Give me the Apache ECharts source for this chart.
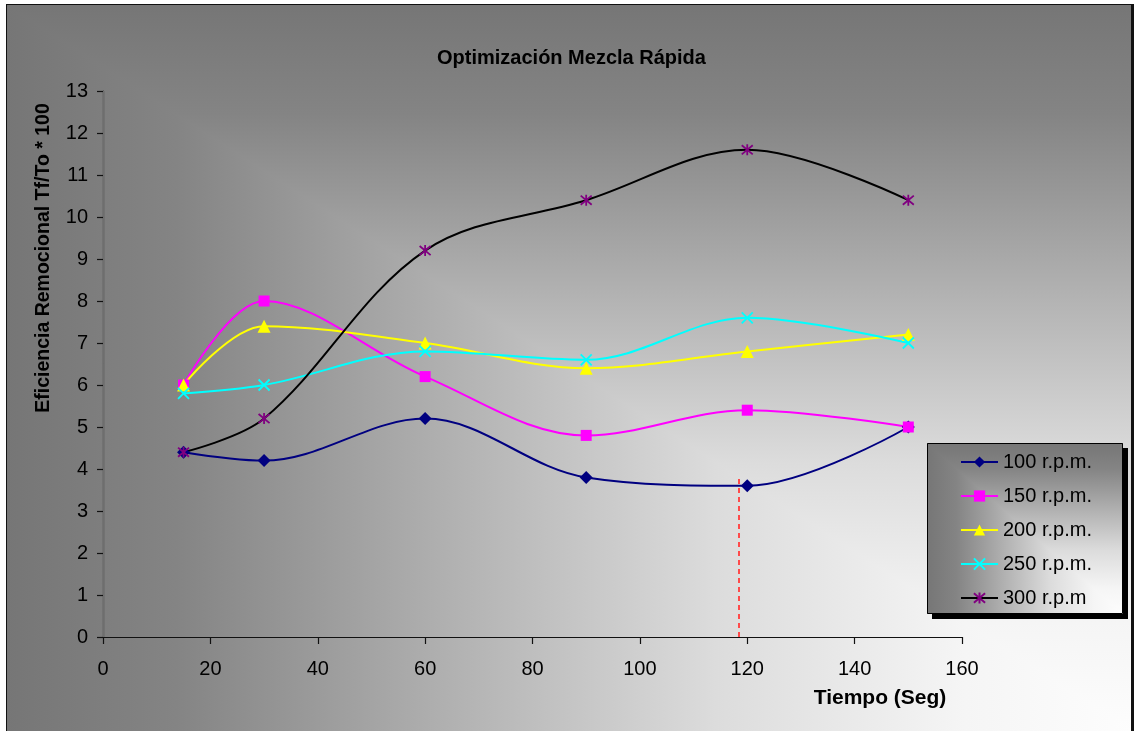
<!DOCTYPE html>
<html>
<head>
<meta charset="utf-8">
<script src="https://cdn.jsdelivr.net/npm/echarts@6/dist/echarts.min.js"></script>
<style>
  html, body { margin: 0; padding: 0; background: #ffffff; }
  #chart { width: 1134px; height: 731px; }
</style>
</head>
<body>
<div id="chart"></div>
<script>
// Mixing time (s) and removal efficiency for each stirring speed
const timeSeg = [15, 30, 60, 90, 120, 150];
const rpm100 = [4.4, 4.2, 5.2, 3.8, 3.6, 5.0];
const rpm150 = [6.0, 8.0, 6.2, 4.8, 5.4, 5.0];
const rpm200 = [6.0, 7.4, 7.0, 6.4, 6.8, 7.2];
const rpm250 = [5.8, 6.0, 6.8, 6.6, 7.6, 7.0];
const rpm300 = [4.4, 5.2, 9.2, 10.4, 11.6, 10.4];
const seriesNames = ['100 r.p.m.', '150 r.p.m.', '200 r.p.m.', '250 r.p.m.', '300 r.p.m'];
const xTicks = [0, 20, 40, 60, 80, 100, 120, 140, 160];
const yTicks = [0, 1, 2, 3, 4, 5, 6, 7, 8, 9, 10, 11, 12, 13];
// dashed reference marker (time, height)
const refTime = 118.5;
const refLevel = 3.83;

const FONT = "'Liberation Sans', Arial, sans-serif";

// grey shading that brightens toward the lower-right corner
const SHADE = [[0, 253], [0.15, 245], [0.37, 220], [0.59, 180], [0.74, 152], [0.85, 132], [1, 118]];
function cornerShade(w, h) {
  const c = document.createElement('canvas');
  c.width = w; c.height = h;
  const g = c.getContext('2d');
  const gx = g.createLinearGradient(w, 0, 0, 0);
  const gy = g.createLinearGradient(0, h, 0, 0);
  SHADE.forEach(([d, v]) => {
    const col = 'rgb(' + v + ',' + v + ',' + v + ')';
    gx.addColorStop(d, col);
    gy.addColorStop(d, col);
  });
  g.fillStyle = gx; g.fillRect(0, 0, w, h);
  g.globalCompositeOperation = 'darken';
  g.fillStyle = gy; g.fillRect(0, 0, w, h);
  return c;
}

// page background: white margin, shaded chart area and its frame
function chartBackground() {
  const c = document.createElement('canvas');
  c.width = 1134; c.height = 731;
  const g = c.getContext('2d');
  g.fillStyle = '#ffffff'; g.fillRect(0, 0, 1134, 731);
  g.drawImage(cornerShade(1126, 726), 7, 5);
  g.fillStyle = '#111111';
  g.fillRect(7, 4, 1127, 1);
  g.fillRect(6, 4, 1, 727);
  g.fillRect(1131, 4, 3, 727);
  return c;
}

const pairs = vals => timeSeg.map((t, i) => [t, vals[i]]);

const CROSS = 'path://M0,0L10,10M10,0L0,10';
const STAR = 'path://M0,0L10,10M10,0L0,10M5,-1L5,11';

function lineSeries(name, vals, lineColor, symColor, symbol, size, stroked) {
  return {
    name: name,
    type: 'line',
    data: pairs(vals),
    smooth: 0.35,
    symbol: symbol,
    symbolSize: size,
    showAllSymbol: true,
    lineStyle: { color: lineColor, width: 2 },
    itemStyle: stroked
      ? { color: symColor, borderColor: symColor, borderWidth: 1.8 }
      : { color: symColor, borderWidth: 0 },
    emphasis: { disabled: true },
    z: 2
  };
}

const series = [
  lineSeries(seriesNames[0], rpm100, '#000080', '#000080', 'diamond', 13, false),
  lineSeries(seriesNames[1], rpm150, '#ff00ff', '#ff00ff', 'rect', 11, false),
  lineSeries(seriesNames[2], rpm200, '#ffff00', '#ffff00', 'triangle', 13, false),
  lineSeries(seriesNames[3], rpm250, '#00ffff', '#00ffff', CROSS, 11, true),
  lineSeries(seriesNames[4], rpm300, '#000000', '#800080', STAR, 11, true)
];

series[0].markLine = {
  silent: true,
  symbol: ['none', 'none'],
  label: { show: false },
  lineStyle: { color: '#ff4a4a', type: [5, 4], width: 2 },
  data: [[{ coord: [refTime, 0] }, { coord: [refTime, refLevel] }]]
};

const chart = echarts.init(document.getElementById('chart'), null, { renderer: 'canvas' });

const legendShade = cornerShade(196, 171);

chart.setOption({
  animation: false,
  backgroundColor: 'transparent',
  textStyle: { fontFamily: FONT },
  title: {
    text: 'Optimización Mezcla Rápida',
    left: 437,
    top: 48,
    padding: 0,
    textStyle: { fontFamily: FONT, fontSize: 20, fontWeight: 'bold', color: '#000000' }
  },
  grid: { left: 103, right: 172, top: 91, bottom: 94, containLabel: false },
  xAxis: {
    type: 'value',
    min: xTicks[0],
    max: xTicks[xTicks.length - 1],
    interval: xTicks[1] - xTicks[0],
    axisLine: { show: true, onZero: false, lineStyle: { color: '#111111', width: 1.2 } },
    axisTick: { show: true, inside: false, length: 7, lineStyle: { color: '#111111', width: 1.2 } },
    axisLabel: { margin: 22, fontSize: 20, color: '#000000', fontFamily: FONT },
    splitLine: { show: false }
  },
  yAxis: [
    {
      type: 'value',
      min: yTicks[0],
      max: yTicks[yTicks.length - 1],
      interval: yTicks[1] - yTicks[0],
      axisLine: { show: true, onZero: false, lineStyle: { color: '#111111', width: 1.2 } },
      axisTick: { show: true, inside: false, length: 6, lineStyle: { color: '#111111', width: 1.2 } },
      axisLabel: { margin: 15, fontSize: 20, color: '#000000', fontFamily: FONT },
      splitLine: { show: false }
    },
    {
      type: 'value',
      position: 'right',
      min: yTicks[0],
      max: yTicks[yTicks.length - 1],
      interval: yTicks[1] - yTicks[0],
      axisLine: { show: true, lineStyle: { color: '#6e6e6e', width: 1 } },
      axisTick: { show: false },
      axisLabel: { show: false },
      splitLine: { show: false }
    }
  ],
  legend: {
    orient: 'vertical',
    left: 960,
    top: 452,
    padding: 0,
    itemWidth: 37,
    itemHeight: 14,
    itemGap: 14,
    selectedMode: false,
    data: seriesNames,
    textStyle: { fontFamily: FONT, fontSize: 20, color: '#000000' },
    z: 10
  },
  graphic: [
    {
      type: 'image', silent: true, z: -10,
      style: { image: chartBackground(), x: 0, y: 0, width: 1134, height: 731 }
    },
    {
      type: 'rect', silent: true, z: 5,
      shape: { x: 932, y: 448, width: 196, height: 171 },
      style: { fill: '#000000' }
    },
    {
      type: 'image', silent: true, z: 6,
      style: { image: legendShade, x: 927, y: 443, width: 196, height: 171 }
    },
    {
      type: 'rect', silent: true, z: 7,
      shape: { x: 927.5, y: 443.5, width: 195, height: 170 },
      style: { fill: 'none', stroke: '#000000', lineWidth: 1 }
    },
    {
      type: 'text', silent: true, z: 8,
      x: 44, y: 258, rotation: Math.PI / 2,
      style: {
        text: 'Eficiencia Remocional Tf/To * 100',
        font: 'bold 19.5px ' + FONT,
        fill: '#000000', align: 'center', verticalAlign: 'middle'
      }
    },
    {
      type: 'text', silent: true, z: 8,
      x: 880, y: 698,
      style: {
        text: 'Tiempo (Seg)',
        font: 'bold 21px ' + FONT,
        fill: '#000000', align: 'center', verticalAlign: 'middle'
      }
    }
  ],
  series: series
});
</script>
</body>
</html>
